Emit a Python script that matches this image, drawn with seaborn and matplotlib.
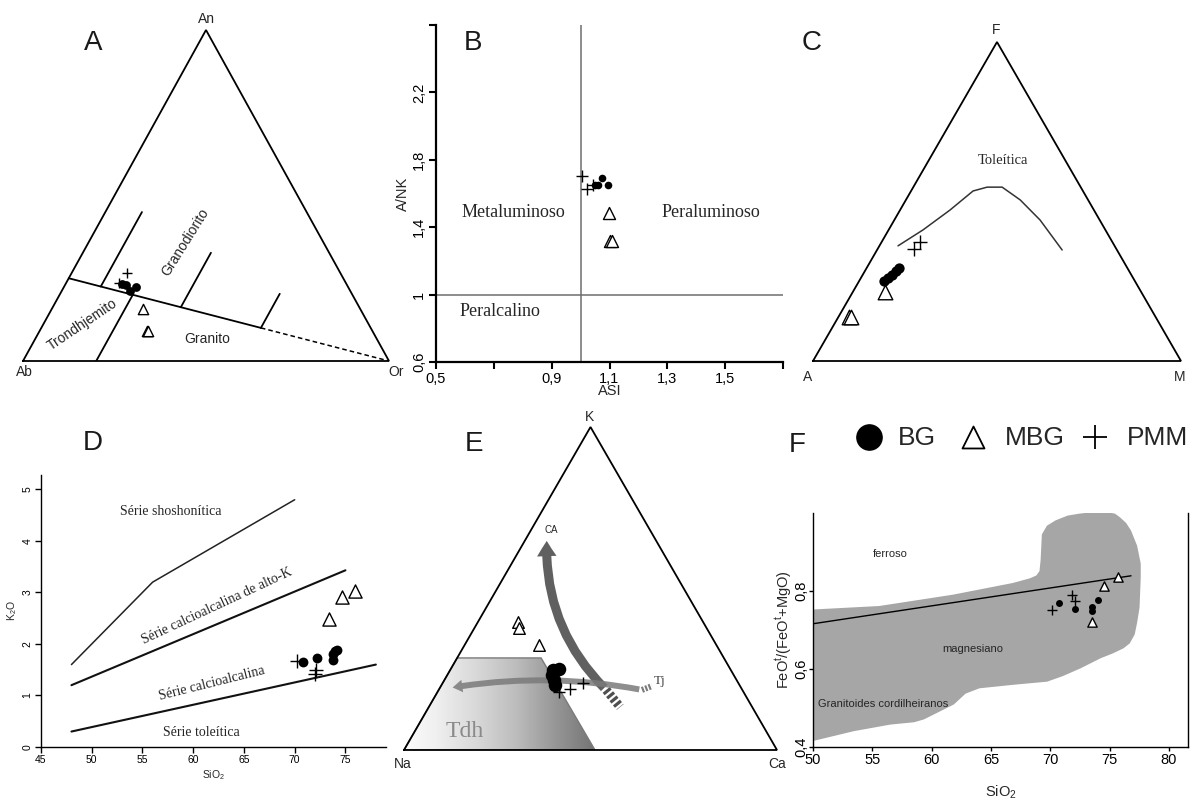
import numpy as np
import matplotlib
matplotlib.use("Agg")
import matplotlib.pyplot as plt
import seaborn as sns
from matplotlib.patches import Polygon, FancyArrowPatch

# ------------------------------
# Data
# ------------------------------
# A: An-Ab-Or ternary (percent An, percent Or; Ab = rest)
a_bg_an = [23.3, 23.0, 21.2, 22.4]
a_bg_or = [15.4, 16.6, 18.6, 19.7]
a_mbg_an = [15.8, 9.1, 9.1]
a_mbg_or = [24.9, 29.3, 29.6]
a_pmm_an = [26.7, 23.6]
a_pmm_or = [15.1, 14.4]
# field boundaries (An, Or)
a_main_an = [25, 10]
a_main_or = [0, 60]
a_dash_an = [10, 0]
a_dash_or = [60, 100]
a_trond_an = [0, 20]
a_trond_or = [20, 20]
a_tick_or = [10, 35, 60]
a_tick_an0 = [22.5, 16.25, 10]
a_tick_an1 = [45, 32.7, 20.3]

# B: ASI vs A/NK
b_bg_asi = [1.050, 1.060, 1.074, 1.095]
b_bg_ank = [1.650, 1.650, 1.692, 1.650]
b_mbg_asi = [1.098, 1.102, 1.109]
b_mbg_ank = [1.484, 1.318, 1.318]
b_pmm_asi = [1.004, 1.022, 1.043]
b_pmm_ank = [1.704, 1.627, 1.650]
b_xticks = [0.5, 0.7, 0.9, 1.1, 1.3, 1.5, 1.7]
b_xticklabels = ["0,5", "", "0,9", "1,1", "1,3", "1,5", ""]
b_yticks = [0.6, 1.0, 1.4, 1.8, 2.2, 2.6]
b_yticklabels = ["0,6", "1", "1,4", "1,8", "2,2", ""]

# C: AFM ternary (percent F, percent M; A = rest)
c_bg_f = [25.1, 26.0, 27.0, 28.2, 29.2]
c_bg_m = [6.75, 7.4, 8.0, 8.5, 8.8]
c_mbg_f = [21.6, 13.8, 13.8]
c_mbg_m = [8.8, 2.9, 3.4]
c_pmm_f = [37.3, 35.1]
c_pmm_m = [10.4, 9.9]
c_curve_f = [36.1, 41.1, 47.3, 53.3, 54.5, 54.5, 50.5, 44.2, 34.8]
c_curve_m = [5.05, 9.35, 13.55, 16.85, 20.05, 24.15, 31.05, 39.6, 50.3]

# D: SiO2 vs K2O
d_bg_sio2 = [70.8, 72.2, 73.75, 73.75, 74.0, 74.2]
d_bg_k2o = [1.65, 1.72, 1.68, 1.81, 1.86, 1.88]
d_mbg_sio2 = [73.35, 74.7, 75.9]
d_mbg_k2o = [2.49, 2.91, 3.03]
d_pmm_sio2 = [70.2, 72.0, 72.1]
d_pmm_k2o = [1.67, 1.42, 1.49]
d_shosh_sio2 = [48, 56, 70]
d_shosh_k2o = [1.6, 3.2, 4.8]
d_highk_sio2 = [48, 75]
d_highk_k2o = [1.2, 3.43]
d_thol_sio2 = [48, 78]
d_thol_k2o = [0.3, 1.6]

# E: Na-K-Ca ternary (percent K, percent Ca; Na = rest)
e_bg_k = [24.8, 25.1, 23.2, 20.1, 21.7]
e_bg_ca = [27.6, 29.0, 28.1, 30.4, 29.4]
e_mbg_k = [39.6, 37.8, 32.5]
e_mbg_ca = [10.8, 11.9, 20.0]
e_pmm_k = [18.0, 18.9, 20.7]
e_pmm_ca = [32.6, 35.0, 37.6]
e_tdh_k = [28.5, 28.5, 0, 0]
e_tdh_ca = [0, 22.5, 51.2, 0]
# trend arrows (K, Ca): start of solid body, tip, end of striped tail
e_ca_arrow_k = [18.6, 65.6, 13.3]
e_ca_arrow_ca = [44.9, 5.5, 51.3]
e_tj_arrow_k = [18.6, 19.2, 19.8]
e_tj_arrow_ca = [54.5, 2.7, 56.6]

# F: SiO2 vs FeOt/(FeOt+MgO)
f_bg_sio2 = [70.7, 72.05, 73.5, 73.5, 74.0]
f_bg_fe = [0.768, 0.753, 0.758, 0.749, 0.777]
f_mbg_sio2 = [73.5, 74.5, 75.7]
f_mbg_fe = [0.720, 0.814, 0.836]
f_pmm_sio2 = [70.1, 71.8, 72.1]
f_pmm_fe = [0.751, 0.789, 0.775]
f_line_sio2 = [50, 76.8]
f_line_fe = [0.716, 0.839]
f_field_sio2 = [50, 55.6, 61.8, 66.85, 68.3, 68.9, 69.2, 69.3, 69.4, 69.8, 70.5, 71.5,
                72.5, 73.7, 74.7, 75.4, 75.8, 76.3, 76.7, 77.2, 77.5, 77.5, 77.4, 77.2,
                77.0, 76.6, 76.1, 75.2, 74.2, 72.5, 71.0, 69.7, 66.85, 64.0, 62.8,
                61.8, 59.3, 58.5, 56.5, 53.4, 50]
f_field_fe = [0.749, 0.758, 0.787, 0.817, 0.829, 0.837, 0.850, 0.880, 0.944, 0.965,
              0.978, 0.990, 0.995, 0.999, 0.999, 0.995, 0.986, 0.972, 0.953, 0.915,
              0.870, 0.834, 0.758, 0.720, 0.690, 0.668, 0.656, 0.643, 0.631, 0.605,
              0.585, 0.571, 0.563, 0.554, 0.540, 0.512, 0.474, 0.467, 0.461, 0.444,
              0.419]

legend_labels = ["BG", "MBG", "PMM"]

# ------------------------------
# Figure setup
# ------------------------------
sns.set_theme(style="ticks")
plt.rcParams['font.family'] = ['Liberation Sans', 'DejaVu Sans']
plt.rcParams['mathtext.fontset'] = 'custom'
plt.rcParams['mathtext.rm'] = 'Liberation Sans'

W, H = 1192, 802
fig = plt.figure(figsize=(W / 100, H / 100), dpi=100)
fig.patch.set_facecolor("white")


def px_axes(x0, y0, x1, y1):
    return fig.add_axes([x0 / W, 1 - y1 / H, (x1 - x0) / W, (y1 - y0) / H])


def ftext(x, y, s, **kw):
    kw.setdefault("ha", "center")
    kw.setdefault("va", "center")
    fig.text(x / W, 1 - y / H, s, **kw)


def tern(top, right):
    top = np.asarray(top, float) / 100
    right = np.asarray(right, float) / 100
    return right + top / 2, top


def tern_frame(ax):
    ax.plot([0, 1, 0.5, 0], [0, 0, 1, 0], color="black", lw=1.3, clip_on=False,
            solid_joinstyle="miter")
    ax.set_xlim(0, 1)
    ax.set_ylim(0, 1)
    ax.set_axis_off()


def groups(ax, bg, mbg, pmm, sc, st, sp):
    sns.scatterplot(x=bg[0], y=bg[1], ax=ax, marker="o", color="black", s=sc,
                    linewidth=0, clip_on=False, zorder=6)
    sns.scatterplot(x=mbg[0], y=mbg[1], ax=ax, marker="^", color="white",
                    edgecolor="black", s=st, linewidth=1.0, clip_on=False, zorder=6)
    sns.scatterplot(x=pmm[0], y=pmm[1], ax=ax, marker="+", color="black", s=sp,
                    linewidth=1.0, clip_on=False, zorder=6)


letter_kw = dict(fontsize=20, color="#1a1a1a")
serif = ["Liberation Serif", "DejaVu Serif"]

# ------------------------------
# A: An-Ab-Or
# ------------------------------
axA = px_axes(23, 30, 389, 361)
groups(axA, tern(a_bg_an, a_bg_or), tern(a_mbg_an, a_mbg_or), tern(a_pmm_an, a_pmm_or),
       40, 55, 60)
axA.plot(*tern(a_main_an, a_main_or), color="black", lw=1.3)
axA.plot(*tern(a_dash_an, a_dash_or), color="black", lw=1.1, ls=(0, (3, 2)))
axA.plot(*tern(a_trond_an, a_trond_or), color="black", lw=1.3)
for o, an0, an1 in zip(a_tick_or, a_tick_an0, a_tick_an1):
    axA.plot(*tern([an0, an1], [o, o]), color="black", lw=1.3)
tern_frame(axA)
axA.text(*tern(10.9, 10.7), "Trondhjemito", rotation=34, fontsize=10, ha="center", va="center")
axA.text(*tern(35.8, 26.4), "Granodiorito", rotation=58, fontsize=10, ha="center", va="center")
axA.text(*tern(6.7, 47), "Granito", fontsize=10, ha="center", va="center")
ftext(206, 19, "An", fontsize=10)
ftext(24, 372, "Ab", fontsize=10)
ftext(396, 372, "Or", fontsize=10)
ftext(93, 43, "A", **letter_kw)

# ------------------------------
# B: ASI vs A/NK
# ------------------------------
axB = px_axes(436, 25, 783, 362)
axB.axvline(1.0, color="#6e6e6e", lw=1.1, zorder=1)
axB.axhline(1.0, color="#6e6e6e", lw=1.1, zorder=1)
groups(axB, (b_bg_asi, b_bg_ank), (b_mbg_asi, b_mbg_ank), (b_pmm_asi, b_pmm_ank),
       30, 75, 75)
axB.set_xlim(0.5, 1.7)
axB.set_ylim(0.6, 2.6)
axB.set_xticks(b_xticks)
axB.set_xticklabels(b_xticklabels)
axB.set_yticks(b_yticks)
axB.set_yticklabels(b_yticklabels, rotation=90, va="center")
sns.despine(ax=axB)
for sp in ["left", "bottom"]:
    axB.spines[sp].set_linewidth(1.6)
    axB.spines[sp].set_color("black")
axB.tick_params(direction="out", length=5, width=1.5, labelsize=10.5, pad=2, colors="black")
axB.set_xlabel("ASI", fontsize=10.5, labelpad=-1)
axB.set_ylabel("A/NK", fontsize=10.5, labelpad=2)
axB.text(0.768, 1.49, "Metaluminoso", family=serif, fontsize=13, ha="center", va="center")
axB.text(1.45, 1.49, "Peraluminoso", family=serif, fontsize=13, ha="center", va="center")
axB.text(0.72, 0.897, "Peralcalino", family=serif, fontsize=13, ha="center", va="center")
ftext(473, 43, "B", **letter_kw)

# ------------------------------
# C: AFM
# ------------------------------
axC = px_axes(813, 42, 1181, 361)
axC.plot(*tern(c_curve_f, c_curve_m), color="#333333", lw=1.1)
groups(axC, tern(c_bg_f, c_bg_m), tern(c_mbg_f, c_mbg_m), tern(c_pmm_f, c_pmm_m),
       55, 110, 90)
tern_frame(axC)
axC.text(*tern(63, 20), "Toleítica", family=serif, fontsize=10.5, ha="center", va="center")
ftext(996, 30, "F", fontsize=10)
ftext(808, 377, "A", fontsize=10)
ftext(1180, 377, "M", fontsize=10)
ftext(812, 43, "C", **letter_kw)

# ------------------------------
# D: SiO2 vs K2O
# ------------------------------
axD = px_axes(41, 475, 386, 747)
axD.plot(d_shosh_sio2, d_shosh_k2o, color="#222222", lw=1.1)
axD.plot(d_highk_sio2, d_highk_k2o, color="#111111", lw=1.5)
axD.plot(d_thol_sio2, d_thol_k2o, color="#111111", lw=1.5)
groups(axD, (d_bg_sio2, d_bg_k2o), (d_mbg_sio2, d_mbg_k2o), (d_pmm_sio2, d_pmm_k2o),
       50, 90, 90)
axD.set_xlim(45, 79)
axD.set_ylim(0, 5.28)
axD.set_xticks([45, 50, 55, 60, 65, 70, 75])
axD.set_yticks([0, 1, 2, 3, 4, 5])
for t in axD.get_yticklabels():
    t.set_rotation(90)
    t.set_va("center")
sns.despine(ax=axD)
for sp in ["left", "bottom"]:
    axD.spines[sp].set_linewidth(1.0)
    axD.spines[sp].set_color("black")
axD.tick_params(direction="out", length=4, width=1, labelsize=7.5, pad=2, colors="black")
axD.set_xlabel("SiO$_\\mathregular{2}$", fontsize=7.5, labelpad=2)
axD.set_ylabel("K$_\\mathregular{2}$O", fontsize=7.5, labelpad=3)
axD.text(57.8, 4.57, "Série shoshonítica", family=serif, fontsize=10, ha="center", va="center")
axD.text(62.3, 2.73, "Série calcioalcalina de alto-K", family=serif, fontsize=10,
         ha="center", va="center", rotation=25)
axD.text(61.8, 1.24, "Série calcioalcalina", family=serif, fontsize=10,
         ha="center", va="center", rotation=14)
axD.text(60.8, 0.28, "Série toleítica", family=serif, fontsize=10, ha="center", va="center")
ftext(93, 443, "D", **letter_kw)

# ------------------------------
# E: Na-K-Ca
# ------------------------------
axE = px_axes(404, 427, 777, 750)
tx, ty = tern(e_tdh_k, e_tdh_ca)
tdh = Polygon(np.column_stack([tx, ty]), closed=True, facecolor="none",
              edgecolor="#7a7a7a", lw=1.0, zorder=2)
axE.add_patch(tdh)
grad = np.linspace(0.03, 0.62, 256).reshape(1, -1)
img = axE.imshow(grad, extent=[0, max(tx), 0, max(ty)], cmap="Greys", vmin=0, vmax=1,
                 aspect="auto", origin="lower", zorder=1)
img.set_clip_path(tdh)

# CA trend arrow
cx, cy = tern(e_ca_arrow_k, e_ca_arrow_ca)
axE.add_patch(FancyArrowPatch((cx[0], cy[0]), (cx[1], cy[1]),
                              connectionstyle="arc3,rad=-0.22",
                              arrowstyle="simple,head_width=14,head_length=11,tail_width=6.5",
                              mutation_scale=1, color="#4f4f4f", alpha=0.9, lw=0, zorder=3))
axE.plot([cx[0], cx[2]], [cy[0], cy[2]], color="#4f4f4f", lw=6.5, ls=(0, (0.35, 0.25)),
         solid_capstyle="butt", dash_capstyle="butt", zorder=3)
# Tj trend arrow
jx, jy = tern(e_tj_arrow_k, e_tj_arrow_ca)
axE.add_patch(FancyArrowPatch((jx[0], jy[0]), (jx[1], jy[1]),
                              connectionstyle="arc3,rad=0.09",
                              arrowstyle="simple,head_width=9,head_length=7,tail_width=4.3",
                              mutation_scale=1, color="#7a7a7a", alpha=0.85, lw=0, zorder=3))
axE.plot([jx[0], jx[2]], [jy[0], jy[2]], color="#7a7a7a", lw=4.3, ls=(0, (0.35, 0.25)),
         dash_capstyle="butt", zorder=3)

groups(axE, tern(e_bg_k, e_bg_ca), tern(e_mbg_k, e_mbg_ca), tern(e_pmm_k, e_pmm_ca),
       95, 70, 80)
tern_frame(axE)
axE.text(*tern(5.6, 13.6), "Tdh", family=serif, fontsize=17, color="#8a8a8a",
         ha="center", va="center", zorder=4)
axE.text(*tern(68, 5.5), "CA", fontsize=7, ha="center", va="center")
axE.text(jx[2] + 0.005, jy[2] + 0.015, "Tj", family=serif, fontsize=9.5,
         ha="left", va="center", color="#444444")
ftext(590, 417, "K", fontsize=10)
ftext(403, 764, "Na", fontsize=10)
ftext(777, 764, "Ca", fontsize=10)
ftext(474, 444, "E", **letter_kw)

# ------------------------------
# F: SiO2 vs FeOt/(FeOt+MgO)
# ------------------------------
axF = px_axes(813, 513, 1188, 747)
axF.add_patch(Polygon(np.column_stack([f_field_sio2, f_field_fe]), closed=True,
                      facecolor="#a6a6a6", edgecolor="#a6a6a6", lw=2, zorder=1,
                      joinstyle="round"))
axF.plot(f_line_sio2, f_line_fe, color="black", lw=1.0, zorder=2)
groups(axF, (f_bg_sio2, f_bg_fe), (f_mbg_sio2, f_mbg_fe), (f_pmm_sio2, f_pmm_fe),
       25, 45, 60)
axF.set_xlim(50, 81.6)
axF.set_ylim(0.4, 1.0)
axF.set_xticks([50, 55, 60, 65, 70, 75, 80])
axF.set_yticks([0.4, 0.6, 0.8])
axF.set_yticklabels(["0,4", "0,6", "0,8"], rotation=90, va="center")
axF.spines["top"].set_visible(False)
for sp in ["left", "bottom", "right"]:
    axF.spines[sp].set_linewidth(1.0)
    axF.spines[sp].set_color("black")
axF.tick_params(direction="out", length=3, width=1, labelsize=10.5, pad=1, colors="black")
axF.tick_params(axis="y", pad=0)
axF.set_xlabel("SiO$_\\mathregular{2}$", fontsize=10.5, labelpad=12)
axF.set_ylabel("FeO$^\\mathregular{t}$/(FeO$^\\mathregular{t}$+MgO)", fontsize=10.5, labelpad=0)
axF.text(56.5, 0.895, "ferroso", fontsize=8, ha="center", va="center")
axF.text(63.5, 0.65, "magnesiano", fontsize=8, ha="center", va="center")
axF.text(55.9, 0.51, "Granitoides cordilheiranos", fontsize=8, ha="center", va="center")
ftext(797, 445, "F", **letter_kw)

# ------------------------------
# Legend
# ------------------------------
leg = px_axes(780, 405, 1192, 470)
leg.set_xlim(780, 1192)
leg.set_ylim(470, 405)
leg.set_axis_off()
leg.scatter([869], [437], s=330, marker="o", color="black", clip_on=False)
leg.scatter([973], [437], s=250, marker="^", facecolor="white", edgecolor="black",
            linewidth=1.3, clip_on=False)
leg.scatter([1095], [437], s=300, marker="+", color="black", linewidth=1.3, clip_on=False)
for x, lab in zip([898, 1005, 1127], legend_labels):
    leg.text(x, 438, lab, fontsize=19, ha="left", va="center")

fig.savefig("out.png", dpi=100, facecolor="white")
